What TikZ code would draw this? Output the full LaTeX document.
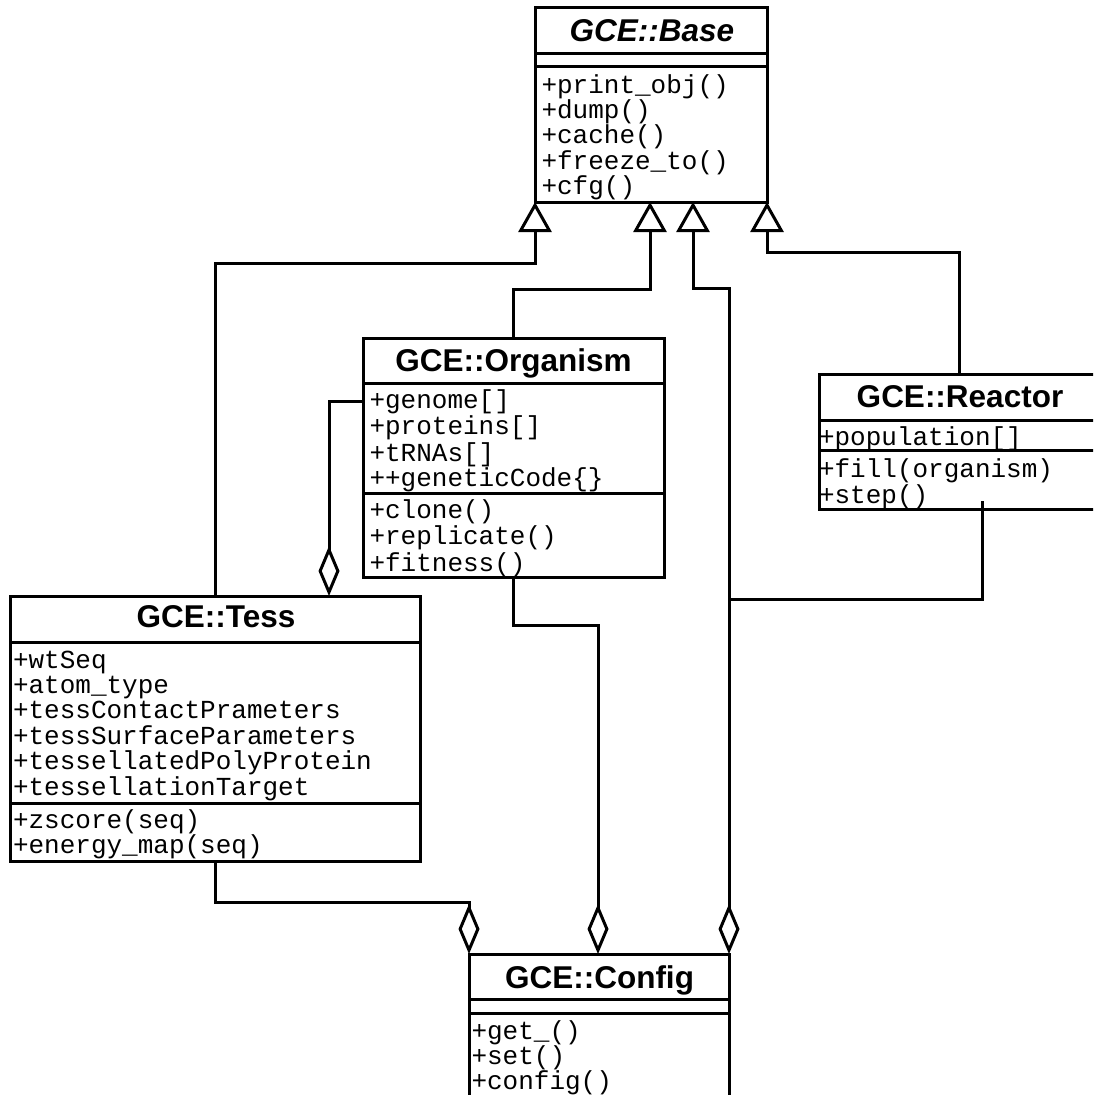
\documentclass[tikz,border=0pt]{standalone}
\usepackage{fontspec}
\setmainfont{Liberation Sans}
\newfontfamily\memfont{Liberation Mono}
\usetikzlibrary{arrows.meta}
\begin{document}
\begin{tikzpicture}[x=1pt,y=-1pt,line width=3pt,
  box/.style={draw, rectangle, line width=3pt, inner sep=0pt, outer sep=0pt, anchor=north west},
  ttl/.style={anchor=base, inner sep=0pt, font=\fontsize{31.5}{31.5}\selectfont\bfseries},
  mem/.style={anchor=base west, inner sep=0pt, font=\memfont\fontsize{26}{26}\selectfont},
  gen/.style={-{Triangle[open,length=30pt,width=33pt,line width=3pt]}},
  agg/.style={-{Diamond[open,length=50pt,width=21pt,line width=3pt]}},
  aggen/.style={{Diamond[open,length=50pt,width=21pt,line width=3pt]}-{Triangle[open,length=30pt,width=33pt,line width=3pt]}}]
\useasboundingbox (0,0) rectangle (1093,1095);
\clip (0,0) rectangle (1093,1095);
\fill[white] (0,0) rectangle (1093,1095);

% GCE::Base
\node[box, minimum width=232pt, minimum height=195pt] (base) at (535,7) {};
\draw (535,53) -- (767,53);
\draw (535,66) -- (767,66);
\node[ttl, font=\fontsize{31.5}{31.5}\selectfont\bfseries\itshape] (baset) at (652,41) {GCE::Base};
\foreach \t/\y [count=\i] in {+print\_obj()/93,+dump()/118,+cache()/143,+freeze\_to()/169,+cfg()/194}
  \node[mem] (bm\i) at (540,\y) {\t};

% GCE::Organism
\node[box, minimum width=301pt, minimum height=239pt] (org) at (363,338) {};
\draw (363,383) -- (664,383);
\draw (363,493) -- (664,493);
\node[ttl] (orgt) at (513.5,371.5) {GCE::Organism};
\foreach \t/\y [count=\i] in {+genome[]/408,+proteins[]/434,+tRNAs[]/461,++geneticCode\{\}/486,+clone()/518,+replicate()/544,+fitness()/571}
  \node[mem] (om\i) at (368,\y) {\t};

% GCE::Reactor
\node[box, minimum width=280pt, minimum height=135pt] (reactor) at (819,374) {};
\draw (819,420) -- (1099,420);
\draw (819,450) -- (1099,450);
\node[ttl] (reactort) at (960,407.5) {GCE::Reactor};
\foreach \t/\y [count=\i] in {+population[]/445,+fill(organism)/477,+step()/503}
  \node[mem] (rm\i) at (817.5,\y) {\t};

% GCE::Tess
\node[box, minimum width=410pt, minimum height=265pt] (tess) at (10,596) {};
\draw (10,642) -- (420,642);
\draw (10,803) -- (420,803);
\node[ttl] (tesst) at (216,627) {GCE::Tess};
\foreach \t/\y [count=\i] in {+wtSeq/668,+atom\_type/693,+tessContactPrameters/718,+tessSurfaceParameters/744,+tessellatedPolyProtein/769,+tessellationTarget/795,+zscore(seq)/828,+energy\_map(seq)/853}
  \node[mem] (tm\i) at (11.5,\y) {\t};

% GCE::Config
\node[box, minimum width=260pt, minimum height=200pt] (config) at (469,954) {};
\draw (469,999) -- (729,999);
\draw (469,1013) -- (729,1013);
\node[ttl] (configt) at (599.5,988) {GCE::Config};
\foreach \t/\y [count=\i] in {+get\_()/1039,+set()/1064,+config()/1089}
  \node[mem] (cm\i) at (470,\y) {\t};

% ports
\coordinate (bp2) at (650,202);
\coordinate (bp3) at (693,202);
\coordinate (rp) at (982,501);
\coordinate (jn) at (729,599);
\coordinate (op) at (363,401);
\coordinate (tp) at (329,596);
\coordinate (cp) at (598,954);

% connectors
\draw[gen] (tess.north) -- (tess.north |- 0,263) -| (base.south west);
\draw[gen] (org.north) -- (org.north |- 0,289) -| (bp2);
\draw[aggen] (config.north east) -- (config.north east |- 0,288) -| (bp3);
\draw[gen] (reactor.north) -- (reactor.north |- 0,252) -| (base.south east);
\draw (rp) |- (jn);
\draw[agg] (op) -| (tp);
\draw[agg] (org.south) -- (org.south |- 0,625) -| (cp);
\draw[agg] (tess.south) -- (tess.south |- 0,902) -| (config.north west);
\end{tikzpicture}
\end{document}
